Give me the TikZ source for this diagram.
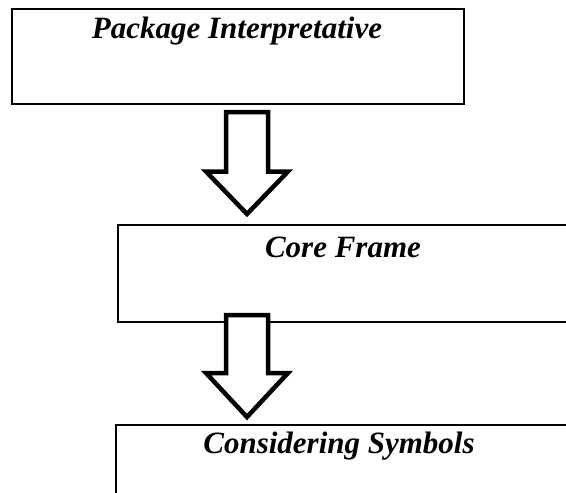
\documentclass[tikz,border=0pt]{standalone}
\usepackage{fontspec}
\setmainfont{Liberation Serif}
\begin{document}
\begin{tikzpicture}[x=1pt,y=-1pt,
  box/.style={draw,line width=2pt,rectangle,inner sep=0pt,outer sep=0pt,anchor=north west},
  blockarrow/.style={draw,fill=white,line width=4.5pt,line join=miter,miter limit=10},
  lbl/.style={font=\fontsize{31}{34}\selectfont\bfseries\itshape,anchor=base,inner sep=0pt}]
\useasboundingbox (0,0) rectangle (566,493);
\clip (0,0) rectangle (566,493);
% boxes
\node[box,minimum width=452pt,minimum height=95pt] (pkg) at (12,9) {};
\node[box,minimum width=500pt,minimum height=97pt] (core) at (118,225) {};
\node[lbl] (pkgtext) at (237,38) {Package Interpretative};
\node[lbl] (coretext) at (343,257) {Core Frame};
% arrow 1
\coordinate (a1) at (247,112);
\draw[blockarrow] ([xshift=-21pt]a1) -- ([xshift=-21pt]a1 |- 0,171.5) -- (206,171.5) -- (247,214) -- (288,171.5)
  -- ([xshift=21pt]a1 |- 0,171.5) -- ([xshift=21pt]a1) -- cycle;
% arrow 2
\coordinate (a2) at (247,315);
\draw[blockarrow] ([xshift=-21pt]a2) -- ([xshift=-21pt]a2 |- 0,373) -- (206,373) -- (247,417) -- (288,373)
  -- ([xshift=21pt]a2 |- 0,373) -- ([xshift=21pt]a2) -- cycle;
\node[box,minimum width=500pt,minimum height=120pt] (sym) at (116,425) {};
\node[lbl] (symtext) at (339,453) {Considering Symbols};
\end{tikzpicture}
\end{document}
